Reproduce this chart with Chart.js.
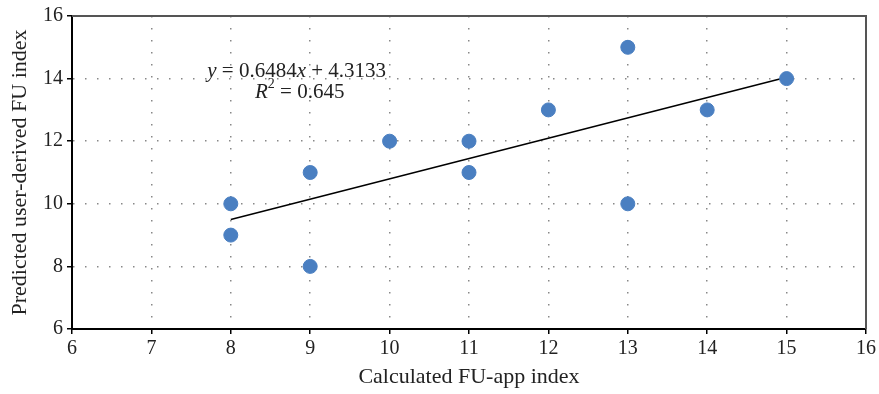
<!DOCTYPE html>
<html>
<head>
<meta charset="utf-8">
<script src="https://cdn.jsdelivr.net/npm/chart.js@4"></script>
<style>
  html, body { margin: 0; padding: 0; background: #fff; }
  #wrap { width: 879px; height: 394px; }
</style>
</head>
<body>
<div id="wrap"><canvas id="fuChart"></canvas></div>
<script>
// calculated FU-app index vs predicted user-derived FU index
const appIndex = [8, 8, 9, 9, 10, 11, 11, 12, 13, 13, 14, 15];
const userIndex = [10, 9, 11, 8, 12, 12, 11, 13, 15, 10, 13, 14];

// linear trendline end points
const trendX = [8, 15];
const trendY = [9.50, 14.04];

// equation pieces: [text, italic, superscript]
const eqParts = [['y', true, false], [' = 0.6484', false, false], ['x', true, false], [' + 4.3133', false, false]];
const r2Parts = [['R', true, false], ['2', false, true], [' = 0.645', false, false]];

const serif = '"Liberation Serif", "DejaVu Serif", serif';

const points = appIndex.map((x, i) => ({ x, y: userIndex[i] }));
const trend = trendX.map((x, i) => ({ x, y: trendY[i] }));

function drawParts(ctx, parts, cx, cy, size) {
  const fontOf = p => (p[1] ? 'italic ' : '') + (p[2] ? Math.round(size * 0.65) : size) + 'px ' + serif;
  let total = 0;
  parts.forEach(p => { ctx.font = fontOf(p); total += ctx.measureText(p[0]).width; });
  let x = cx - total / 2;
  parts.forEach(p => {
    ctx.font = fontOf(p);
    ctx.fillText(p[0], x, p[2] ? cy - size * 0.35 : cy);
    x += ctx.measureText(p[0]).width;
  });
}

// frame + equation text
const framePlugin = {
  id: 'framePlugin',
  afterDraw(chart) {
    const ctx = chart.ctx;
    const { left, right, top, bottom } = chart.chartArea;
    const xs = chart.scales.x, ys = chart.scales.y;
    ctx.save();
    // top / right border in gray
    ctx.strokeStyle = '#555';
    ctx.lineWidth = 2;
    ctx.beginPath();
    ctx.moveTo(left, top);
    ctx.lineTo(right, top);
    ctx.lineTo(right, bottom);
    ctx.stroke();

    // equation
    ctx.fillStyle = '#222';
    ctx.textAlign = 'left';
    ctx.textBaseline = 'middle';
    const cx = xs.getPixelForValue(8.83);
    drawParts(ctx, eqParts, cx, ys.getPixelForValue(14.24), 21);
    drawParts(ctx, r2Parts, cx + 3, ys.getPixelForValue(13.57), 21);
    ctx.restore();
  }
};

const gridOpts = {
  color: '#888',
  lineWidth: 1.5,
  drawTicks: true,
  tickLength: 5,
  tickColor: '#000',
  tickBorderDash: [],
  tickWidth: 1.5
};

const tickFont = { family: serif, size: 20 };
const titleFont = { family: serif, size: 22 };

new Chart(document.getElementById('fuChart').getContext('2d'), {
  type: 'scatter',
  data: {
    datasets: [
      {
        label: 'FU index',
        data: points,
        backgroundColor: '#4a7fc1',
        borderColor: '#4a7fc1',
        pointRadius: 7,
        pointHoverRadius: 7,
        order: 1
      },
      {
        label: 'Trend',
        type: 'line',
        data: trend,
        borderColor: '#000',
        borderWidth: 1.5,
        pointRadius: 0,
        fill: false,
        order: 2
      }
    ]
  },
  options: {
    responsive: true,
    maintainAspectRatio: false,
    animation: false,
    layout: { padding: { top: 11, right: 13, left: 3, bottom: 0 } },
    plugins: {
      legend: { display: false },
      tooltip: { enabled: false }
    },
    scales: {
      x: {
        type: 'linear',
        min: 6, max: 16,
        ticks: { stepSize: 1, color: '#222', font: tickFont, padding: 3 },
        grid: { ...gridOpts },
        border: { color: '#000', width: 2, dash: [1.5, 10.5] },
        title: { display: true, text: 'Calculated FU-app index', color: '#222', font: titleFont, padding: { top: 2 } },
        afterFit(scale) { scale.height = 65; }
      },
      y: {
        type: 'linear',
        min: 6, max: 16,
        ticks: { stepSize: 2, color: '#222', font: tickFont, padding: 4 },
        grid: { ...gridOpts },
        border: { color: '#000', width: 2, dash: [1.5, 10.5] },
        title: { display: true, text: 'Predicted user-derived FU index', color: '#222', font: titleFont, padding: { bottom: 4 } },
        afterFit(scale) { scale.width = 69; }
      }
    }
  },
  plugins: [framePlugin]
});
</script>
</body>
</html>
